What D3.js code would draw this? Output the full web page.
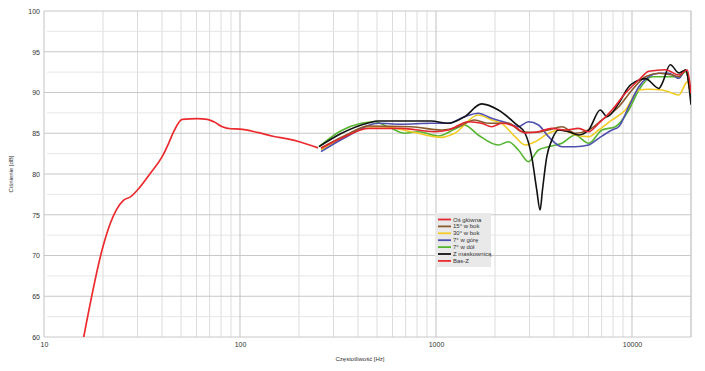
<!DOCTYPE html>
<html>
<head>
<meta charset="utf-8">
<script src="https://cdn.jsdelivr.net/npm/d3@7"></script>
<style>
  body { margin: 0; background: #fff; }
  svg { display: block; }
  text { font-family: "Liberation Sans", Arial, sans-serif; fill: #333; }
</style>
</head>
<body>
<div id="chart"></div>
<script>
// legend order, names and colours
var seriesNames = ["Oś główna", "15° w bok", "30° w bok", "7° w górę", "7° w dół", "Z maskownicą", "Bas-Z"];
var seriesColors = ["#e3262d", "#8a5a2c", "#f2cc25", "#4f4fae", "#56b531", "#111111", "#ec2b2f"];

var xTicks = [10, 100, 1000, 10000];
var yTicks = [60, 65, 70, 75, 80, 85, 90, 95, 100];

// [Hz, dB]
var osGlowna = [[259,83.15],[348,84.66],[451,85.6],[665,85.6],[981,85.19],[1157,85.4],[1465,86.42],[1708,86.22],
  [1922,85.8],[2162,86.22],[2530,85.8],[2846,85.05],[3333,85.19],[3899,85.6],[4560,85.4],[5340,85.6],[6009,85.19],
  [6761,86.22],[7907,87.85],[9252,89.9],[10834,91.53],[12189,92.6],[14831,92.8],[17367,92.15],[19145,92.76],[20000,89.9]];

var bok15 = [[259,83.19],[348,84.79],[451,85.89],[748,85.8],[1066,85.4],[1302,85.8],[1573,86.63],[1855,86.22],
  [2340,86.22],[2737,85.19],[3201,85.1],[3750,85.4],[4385,85.8],[5131,85.0],[6009,85.4],[7031,86.63],[8556,88.26],
  [10012,90.3],[11711,91.94],[13721,92.36],[16051,92.15],[17367,91.94],[18775,92.76],[20000,89.1]];

var bok30 = [[259,82.94],[348,84.66],[451,85.8],[544,85.8],[748,85.19],[1066,84.5],[1245,85.0],[1643,87.24],
  [1922,86.63],[2162,86.22],[2530,84.58],[2846,83.56],[3201,83.96],[3750,85.0],[4385,85.4],[5131,84.79],[6009,84.58],
  [6761,85.4],[7907,86.63],[9252,87.85],[10834,90.3],[12189,90.4],[14266,90.3],[15700,90.0],[17367,89.7],[19145,91.3],[20000,89.5]];

var gora7 = [[259,82.74],[348,84.54],[507,86.22],[665,86.1],[947,86.22],[1153,86.22],[1398,87.03],[1643,87.45],
  [1922,86.83],[2340,86.22],[2633,85.8],[2961,86.42],[3333,86.01],[3750,84.58],[4385,83.35],[5131,83.35],[6009,83.56],
  [6761,84.38],[7907,85.4],[8556,85.8],[9630,88.26],[10834,90.71],[12189,91.94],[13721,92.36],[15438,92.36],
  [17367,91.74],[18775,92.76],[20000,89.5]];

var dol7 = [[253,83.35],[328,85.3],[415,86.22],[484,86.42],[591,85.6],[689,85.0],[812,85.19],[1028,84.66],
  [1242,85.48],[1398,86.0],[1643,84.79],[2080,83.56],[2340,83.96],[2633,82.94],[2961,81.51],[3333,82.94],[3750,83.35],
  [4385,83.77],[5131,84.79],[6009,83.77],[7031,85.4],[8222,85.8],[9630,87.85],[10834,90.3],[12676,91.94],[14831,91.94],
  [17367,91.94],[18775,92.56],[20000,89.5]];

var maskownica = [[253,83.35],[328,84.97],[451,86.26],[507,86.5],[665,86.5],[947,86.5],[1153,86.22],[1400,87.03],
  [1708,88.6],[2080,87.85],[2530,86.22],[2846,85.0],[3079,82.12],[3266,78.04],[3396,75.58],[3493,78.04],[3675,82.12],
  [3899,84.17],[4217,85.4],[4747,85.19],[5340,84.79],[6009,85.4],[6887,87.85],[7457,87.03],[8556,88.67],[9630,90.71],
  [10409,91.33],[11711,91.7],[13721,90.5],[14266,91.13],[15670,93.4],[17367,92.4],[18775,92.76],[20000,88.5]];

var basZ = [[15.8,59.5],[20,71.1],[21.8,73.95],[23.4,75.6],[25.5,76.8],[27.6,77.2],[31,78.45],[34.9,80.1],[40,82.1],
  [43.3,83.8],[45.9,85.2],[50.7,86.7],[60.5,86.8],[68.1,86.7],[73.6,86.4],[81.3,85.8],[89.7,85.55],[100,85.5],
  [122.8,85.1],[149,84.6],[175,84.3],[204.5,83.9],[250,83.2]];

var seriesData = [osGlowna, bok15, bok30, gora7, dol7, maskownica, basZ];
var drawOrder = [4, 2, 3, 1, 5, 0, 6];

var W = 705, H = 371;
var padL = 44, padR = 691, padT = 11, padB = 337;

var x = d3.scaleLog().domain([10, 20000]).range([padL, padR]);
var y = d3.scaleLinear().domain([60, 100]).range([padB, padT]);

var svg = d3.select("#chart").append("svg")
    .attr("width", W)
    .attr("height", H);

svg.append("rect").attr("width", W).attr("height", H).attr("fill", "#fff");

// grid: minor
var minorX = [];
[10, 100, 1000, 10000].forEach(function(d) {
    for (var k = 2; k <= 9; k++) if (d * k <= 20000) minorX.push(d * k);
});
var minorY = d3.range(62.5, 100, 5);

var grid = svg.append("g");
grid.selectAll("line.mx").data(minorX).enter().append("line")
    .attr("x1", d => x(d)).attr("x2", d => x(d))
    .attr("y1", padT).attr("y2", padB)
    .attr("stroke", "#dcdcdc").attr("stroke-width", 1);
grid.selectAll("line.my").data(minorY).enter().append("line")
    .attr("x1", padL + 3).attr("x2", padR)
    .attr("y1", d => y(d)).attr("y2", d => y(d))
    .attr("stroke", "#e6e6e6").attr("stroke-width", 1);

// grid: major
grid.selectAll("line.Mx").data(xTicks.concat([20000])).enter().append("line")
    .attr("x1", d => x(d)).attr("x2", d => x(d))
    .attr("y1", padT).attr("y2", padB)
    .attr("stroke", "#c2c2c2").attr("stroke-width", 1);
grid.selectAll("line.My").data(yTicks).enter().append("line")
    .attr("x1", padL).attr("x2", padR)
    .attr("y1", d => y(d)).attr("y2", d => y(d))
    .attr("stroke", "#c8c8c8").attr("stroke-width", 1);

// tick labels via d3 axes
svg.append("g")
    .attr("transform", "translate(" + padL + ",0)")
    .call(d3.axisLeft(y).tickValues(yTicks).tickSize(0).tickPadding(4));
svg.append("g")
    .attr("transform", "translate(0," + padB + ")")
    .call(d3.axisBottom(x).tickValues(xTicks).tickFormat(d3.format("d")).tickSize(0).tickPadding(5));

svg.selectAll(".domain").remove();
svg.selectAll(".tick text")
    .style("font-size", "7px")
    .attr("fill", "#333")
    .attr("font-family", "Liberation Sans, Arial, sans-serif");

svg.append("text")
    .attr("transform", "translate(13," + ((padT + padB) / 2) + ") rotate(-90)")
    .attr("text-anchor", "middle")
    .style("font-size", "6px")
    .text("Ciśnienie [dB]");

svg.append("text")
    .attr("x", 360).attr("y", 361)
    .attr("text-anchor", "middle")
    .style("font-size", "6px")
    .text("Częstotliwość [Hz]");

// curves
svg.append("clipPath").attr("id", "plotclip")
    .append("rect").attr("x", padL).attr("y", padT)
    .attr("width", padR - padL).attr("height", padB - padT);

var line = d3.line()
    .x(d => x(d[0]))
    .y(d => y(d[1]))
    .curve(d3.curveMonotoneX);

var curves = svg.append("g").attr("clip-path", "url(#plotclip)");
drawOrder.forEach(function(i) {
    curves.append("path")
        .datum(seriesData[i])
        .attr("d", line)
        .attr("fill", "none")
        .attr("stroke", seriesColors[i])
        .attr("stroke-width", i == 6 ? 1.7 : 1.6)
        .attr("stroke-linejoin", "round");
});

// legend
var lg = svg.append("g");
lg.append("rect")
    .attr("x", 435).attr("y", 213)
    .attr("width", 56).attr("height", 54)
    .attr("fill", "#e9e9e9");
var rows = lg.selectAll("g.row").data(seriesNames).enter().append("g")
    .attr("transform", (d, i) => "translate(0," + (219.5 + i * 6.9) + ")");
rows.append("line")
    .attr("x1", 438).attr("x2", 451)
    .attr("stroke", (d, i) => seriesColors[i])
    .attr("stroke-width", 1.8);
rows.append("text")
    .attr("x", 453).attr("y", 2)
    .style("font-size", "6px")
    .text(d => d);
</script>
</body>
</html>
